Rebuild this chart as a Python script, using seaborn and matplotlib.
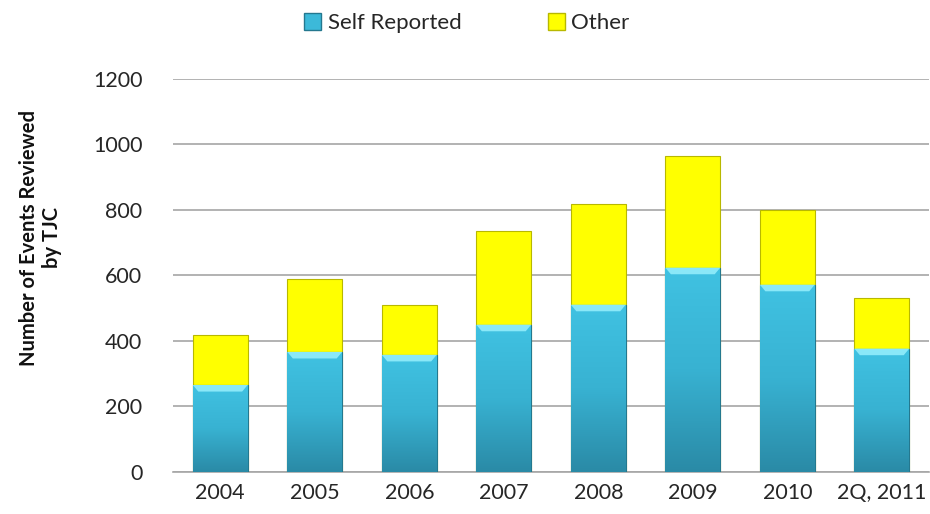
import numpy as np
import pandas as pd
import matplotlib
matplotlib.use("Agg")
import matplotlib.pyplot as plt
import seaborn as sns
from matplotlib.colors import LinearSegmentedColormap
from matplotlib.patches import Patch

# dados
anos = ["2004", "2005", "2006", "2007", "2008", "2009", "2010", "2Q, 2011"]
self_reported = [265, 366, 357, 449, 510, 623, 571, 376]
other = [153, 223, 153, 287, 308, 342, 229, 155]
y_ticks = [0, 200, 400, 600, 800, 1000, 1200]

df = pd.DataFrame({"ano": anos, "self": self_reported, "other": other})
df["total"] = df["self"] + df["other"]

sns.set_theme(style="white")
plt.rcParams["font.family"] = ["Lato", "DejaVu Sans"]

fig = plt.figure(figsize=(9.3, 5.14), dpi=100)
ax = fig.add_axes([0.186, 0.082, 0.813, 0.765])

# barras empilhadas: total (amarelo) por baixo, self reported por cima
sns.barplot(data=df, x="ano", y="total", color="#ffff00", width=0.58,
            saturation=1, edgecolor="#b8b800", linewidth=0.8, ax=ax, zorder=3)
n_other = len(ax.patches)
sns.barplot(data=df, x="ano", y="self", color="#3cb9d9", width=0.58,
            saturation=1, edgecolor="#24788f", linewidth=0.8, ax=ax, zorder=4)

# degradê nas barras azuis
cmap = LinearSegmentedColormap.from_list("azul", ["#2a8aa6", "#38b2d2", "#40c2e2"])
grad = np.linspace(0, 1, 256).reshape(-1, 1)
for p in ax.patches[n_other:]:
    x0, y0 = p.get_x(), p.get_y()
    w, h = p.get_width(), p.get_height()
    im = ax.imshow(grad, cmap=cmap, aspect="auto", origin="lower",
                   extent=[x0, x0 + w, y0, y0 + h], zorder=4.5)
    im.set_clip_path(p)
    # faixa clara no topo (bisel)
    ax.fill([x0, x0 + w, x0 + w * 0.9, x0 + w * 0.1],
            [y0 + h, y0 + h, y0 + h - 20, y0 + h - 20],
            color="#8ae8f8", zorder=4.6, linewidth=0)

ax.set_xlim(-0.5, len(anos) - 0.5)
ax.set_ylim(0, 1200)
ax.set_yticks(y_ticks)
ax.set_yticklabels([str(v) for v in y_ticks])
ax.yaxis.grid(True, color="#a6a6a6", linewidth=1.2, zorder=0)
ax.set_axisbelow(True)
for s in ["top", "right", "left"]:
    ax.spines[s].set_visible(False)
ax.spines["bottom"].set_color("#a6a6a6")
ax.spines["bottom"].set_linewidth(1.2)
ax.tick_params(axis="both", labelsize=15.5, colors="#262626", length=0, pad=8)
ax.tick_params(axis="y", pad=22)
ax.set_xlabel("")
ax.set_ylabel("Number of Events Reviewed\nby TJC", fontsize=14.5, fontweight="bold",
              color="#111111")
ax.yaxis.set_label_coords(-0.147, 0.595)

# legenda
handles = [Patch(facecolor="#3cb9d9", edgecolor="#24788f", label="Self Reported"),
           Patch(facecolor="#ffff00", edgecolor="#b8b800", label="Other")]
fig.legend(handles=handles, loc="center", bbox_to_anchor=(0.502, 0.955), ncol=2,
           frameon=False, fontsize=16, handlelength=0.75, handleheight=0.75,
           handletextpad=0.3, columnspacing=3.9)

plt.savefig("out.png", dpi=100)
